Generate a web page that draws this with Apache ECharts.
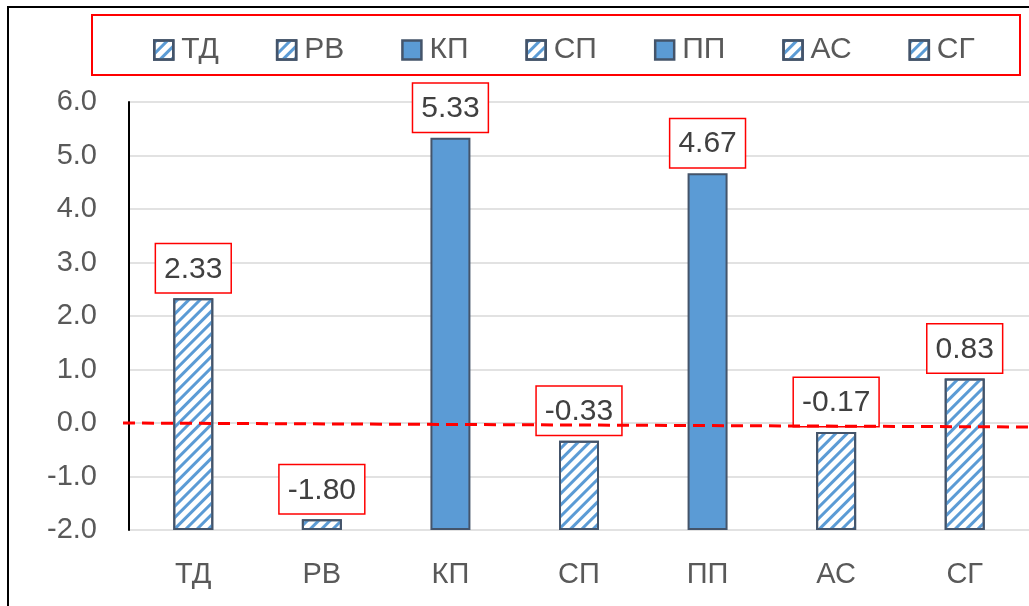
<!DOCTYPE html>
<html>
<head>
<meta charset="utf-8">
<script src="https://cdn.jsdelivr.net/npm/echarts@6/dist/echarts.min.js"></script>
<style>
html,body{margin:0;padding:0;background:#fff;}
#chart{width:1029px;height:606px;}
</style>
</head>
<body>
<div id="chart"></div>
<script>
// ---- data ----
const categories = ['ТД', 'РВ', 'КП', 'СП', 'ПП', 'АС', 'СГ'];
const values = [2.33, -1.80, 5.33, -0.33, 4.67, -0.17, 0.83];
const hatched = [true, true, false, true, false, true, true];
const yMin = -2.0;
const yMax = 6.0;
const yStep = 1.0;
const refLineValue = 0.0;

// ---- styling ----
const FONT = 'Liberation Sans';
const BLUE = '#5B9BD5';
const EDGE = '#44546A';

const chart = echarts.init(document.getElementById('chart'), null, {renderer: 'canvas'});

// Bars in the reference rise from the bottom of the axis (-2.0), so plot offset values
const series = categories.map((name, i) => {
  const data = categories.map((c, j) => (j === i ? values[i] - yMin : '-'));
  const itemStyle = {
    color: hatched[i] ? '#FFFFFF' : BLUE,
    borderColor: EDGE,
    borderWidth: 2
  };
  if (hatched[i]) {
    itemStyle.decal = {
      symbol: 'rect',
      symbolSize: 1,
      color: BLUE,
      dashArrayX: [1, 0],
      dashArrayY: [3, 5],
      rotation: -Math.PI / 4
    };
  }
  return {
    name: name,
    type: 'bar',
    stack: 'all',
    barWidth: 40,
    data: data,
    itemStyle: itemStyle,
    label: {
      show: true,
      position: 'top',
      distance: 6,
      formatter: () => values[i].toFixed(2),
      fontFamily: FONT,
      fontSize: 30,
      color: '#404040',
      backgroundColor: '#FFFFFF',
      borderColor: '#FF0000',
      borderWidth: 1.5,
      padding: [7, 8, 5, 8],
      lineHeight: 36
    },
    emphasis: {disabled: true}
  };
});

const option = {
  animation: false,
  backgroundColor: '#FFFFFF',
  legend: {
    data: categories,
    icon: 'rect',
    left: 148,
    top: 30,
    itemWidth: 19,
    itemHeight: 19,
    itemGap: 57,
    itemStyle: {borderWidth: 2.5},
    textStyle: {
      fontFamily: FONT,
      fontSize: 30,
      color: '#595959',
      width: 46,
      padding: [0, 0, 0, 3]
    }
  },
  grid: {left: 129, right: 0, top: 102, bottom: 76},
  xAxis: {
    type: 'category',
    data: categories,
    axisLine: {show: false},
    axisTick: {show: false},
    axisLabel: {fontFamily: FONT, fontSize: 29, color: '#595959', margin: 30}
  },
  yAxis: {
    type: 'value',
    min: 0,
    max: yMax - yMin,
    interval: yStep,
    axisLine: {show: true, lineStyle: {color: '#000000', width: 2}},
    axisTick: {show: false},
    splitLine: {lineStyle: {color: '#D9D9D9', width: 1.5}},
    axisLabel: {
      fontFamily: FONT,
      fontSize: 29,
      color: '#595959',
      margin: 32,
      formatter: v => (v + yMin).toFixed(1)
    }
  },
  series: series
};

chart.setOption(option);

// annotation shapes: outer frame, legend box, dashed zero line
const y0 = chart.convertToPixel({yAxisIndex: 0}, refLineValue - yMin);
chart.setOption({
  graphic: [
    {
      type: 'rect', silent: true,
      shape: {x: 8, y: 7, width: 1200, height: 800},
      style: {fill: 'none', stroke: '#000000', lineWidth: 2}
    },
    {
      type: 'rect', silent: true,
      shape: {x: 92, y: 15, width: 928, height: 60},
      style: {fill: 'none', stroke: '#FF0000', lineWidth: 2}
    },
    {
      type: 'line', silent: true, z: 100,
      shape: {x1: 123, y1: y0, x2: 1029, y2: y0 + 4},
      style: {stroke: '#FF0000', lineWidth: 3, lineDash: [12, 7]}
    }
  ]
});
</script>
</body>
</html>
